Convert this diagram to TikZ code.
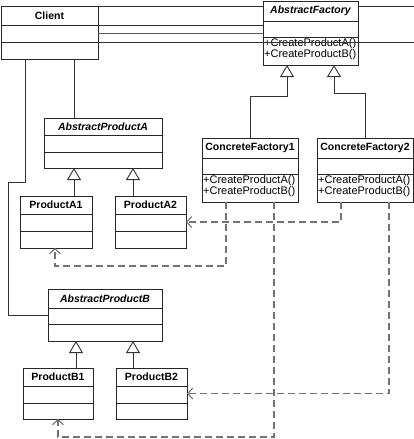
\documentclass[tikz,border=0pt]{standalone}
\usepackage{fontspec}
\setmainfont{Liberation Sans}
\usetikzlibrary{arrows.meta,calc}
\newcommand\umlcls[9]{%
  \node[clsbox, minimum width={#4-#2}, minimum height={#5-#3}, anchor=north west] (#1) at (#2,#3) {};
  \draw[divline] (#2,#6) -- (#4,#6) (#2,#7) -- (#4,#7);
  \node[#8] (#1-t) at ({(#2+#4)/2},{(#3+#6)/2}) {#9};
}
\begin{document}
\begin{tikzpicture}[x=1pt,y=-1pt,
  clsbox/.style={draw=black!85, line width=0.9pt, fill=white, inner sep=0pt, outer sep=0pt},
  divline/.style={draw=black!85, line width=0.9pt},
  ttl/.style={font=\fontsize{10.5}{12}\selectfont\bfseries, inner sep=0pt},
  attl/.style={font=\fontsize{10.5}{12}\selectfont\bfseries\itshape, inner sep=0pt},
  meth/.style={font=\fontsize{11}{11.5}\selectfont, align=left, inner sep=1pt, anchor=north west},
  assoc/.style={draw=black!80, line width=0.9pt},
  gen/.style={draw=black!80, line width=0.9pt, -{Triangle[open, length=12pt, width=14pt, fill=white]}},
  dep/.style={draw=black!55, line width=1.1pt, dash pattern=on 7pt off 4pt, -{Straight Barb[length=5pt, width=11pt]}},
]
\useasboundingbox (0,0) rectangle (414,439);
\coordinate (rim) at (414,0);
\coordinate (ya) at (0,6);
\coordinate (yb) at (0,25);
\coordinate (yc) at (0,33);
\coordinate (yd) at (0,42);

% classes
\umlcls{client}{1}{6}{98}{59}{25}{42}{ttl}{Client}
\umlcls{af}{263}{1}{358}{65}{21}{37}{attl}{AbstractFactory}
\node[meth] (af-m) at (263,37) {+CreateProductA()\\+CreateProductB()};
\umlcls{cf1}{202}{138}{298}{202}{158}{174}{ttl}{ConcreteFactory1}
\node[meth] (cf1-m) at (202,174) {+CreateProductA()\\+CreateProductB()};
\umlcls{cf2}{317}{138}{413}{202}{158}{174}{ttl}{ConcreteFactory2}
\node[meth] (cf2-m) at (317,174) {+CreateProductA()\\+CreateProductB()};
\umlcls{apa}{44}{118}{162}{168}{135}{152}{attl}{AbstractProductA}
\umlcls{pa1}{20}{196}{92}{248}{214}{231}{ttl}{ProductA1}
\umlcls{pa2}{115}{196}{186}{248}{214}{231}{ttl}{ProductA2}
\umlcls{apb}{48}{289}{162}{341}{308}{324}{attl}{AbstractProductB}
\umlcls{pb1}{23}{368}{93}{419}{386}{403}{ttl}{ProductB1}
\umlcls{pb2}{116}{368}{187}{419}{386}{403}{ttl}{ProductB2}

% client to abstract factory (lines as shown)
\draw[assoc] (client.east |- ya) -- (af.west |- ya);
\draw[assoc] (af.east |- ya) -- (rim |- ya);
\draw[assoc] (client.east |- yb) -- (af.west |- yb);
\draw[draw=black!65, line width=0.9pt] (client.east |- yc) -- (af.west |- yc);
\draw[assoc] (client.east |- yd) -- (rim |- yd);

% client to abstract products
\coordinate (cl1) at ($(client.south west)+(24,0)$);
\coordinate (cl2) at ($(client.south west)+(73,0)$);
\draw[assoc] (cl1) -- ++(0,123) -- ++(-17,0) |- (apb.west);
\draw[assoc] (cl2) -- (cl2 |- apa.north);

% generalizations
\coordinate (afa) at ($(af.south west)+(24,0)$);
\coordinate (afb) at ($(af.south west)+(71,0)$);
\draw[gen] (cf1.north) |- ($(afa)+(0,31)$) -- (afa);
\draw[gen] (cf2.north) |- ($(afb)+(0,28)$) -- (afb);
\coordinate (pa1a) at ($(pa1.north west)+(54,0)$);
\coordinate (pa2a) at ($(pa2.north west)+(18,0)$);
\draw[gen] (pa1a) -- (pa1a |- apa.south);
\draw[gen] (pa2a) -- (pa2a |- apa.south);
\coordinate (pb1a) at ($(pb1.north west)+(53,0)$);
\coordinate (pb2a) at ($(pb2.north west)+(17,0)$);
\draw[gen] (pb1a) -- (pb1a |- apb.south);
\draw[gen] (pb2a) -- (pb2a |- apb.south);

% dependencies
\draw[dep] ($(cf1.south west)+(24,0)$) -- ++(0,64) -| ($(pa1.south west)+(35,0)$);
\draw[dep] ($(cf2.south west)+(24,0)$) |- (pa2.east);
\draw[dep] ($(cf1.south west)+(72,0)$) -- ++(0,235) -| ($(pb1.south west)+(35,0)$);
\draw[dep] ($(cf2.south west)+(72,0)$) |- (pb2.east);
\end{tikzpicture}
\end{document}
